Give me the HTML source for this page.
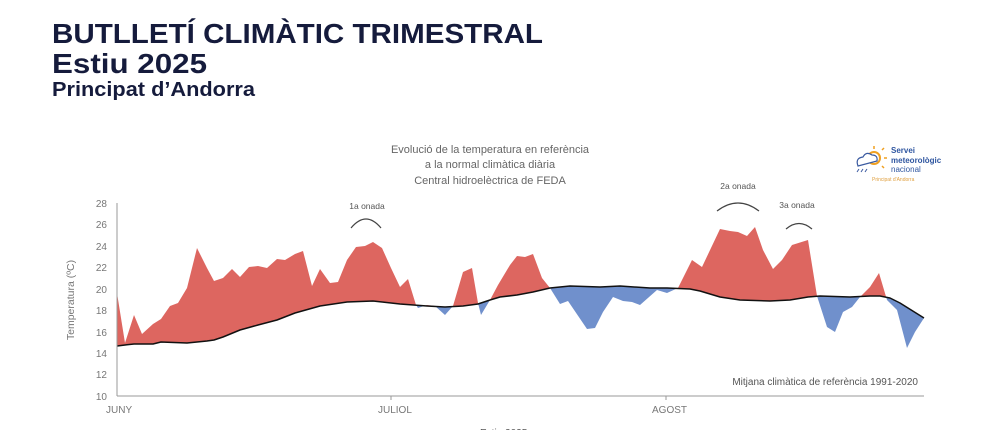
<!DOCTYPE html>
<html><head><meta charset="utf-8"><style>
html,body{margin:0;padding:0;background:#fff;}
svg{display:block;font-family:"Liberation Sans",sans-serif;}
</style></head><body>
<svg width="1000" height="430" viewBox="0 0 1000 430" xmlns="http://www.w3.org/2000/svg">
<defs>
<clipPath id="above"><polygon points="117,150 924,150 924,318 900,303 890,298 880,296 870,296 850,297 820,296 808,297 790,300 770,301 740,300 720,297 700,291 690,289 667,288 650,288 620,286 600,287 570,286 550,288 533,292 517,295 500,297 490,300 478,304 463,306 445,307 427,306 400,304 373,301 347,302 320,306 295,313 277,320 258,325 240,330 223,337 214,340 207,341 187,343 161,342 153,344 134,344 125,345 117,346"/></clipPath>
<clipPath id="below"><polygon points="117,420 924,420 924,318 900,303 890,298 880,296 870,296 850,297 820,296 808,297 790,300 770,301 740,300 720,297 700,291 690,289 667,288 650,288 620,286 600,287 570,286 550,288 533,292 517,295 500,297 490,300 478,304 463,306 445,307 427,306 400,304 373,301 347,302 320,306 295,313 277,320 258,325 240,330 223,337 214,340 207,341 187,343 161,342 153,344 134,344 125,345 117,346"/></clipPath>
</defs>
<g fill="#151b3c" font-weight="bold">
<text x="52" y="43" font-size="28" textLength="491" lengthAdjust="spacingAndGlyphs">BUTLLETÍ CLIMÀTIC TRIMESTRAL</text>
<text x="52" y="73" font-size="28" textLength="155" lengthAdjust="spacingAndGlyphs">Estiu 2025</text>
<text x="52" y="96" font-size="20" textLength="203" lengthAdjust="spacingAndGlyphs">Principat d’Andorra</text>
</g>
<g fill="#666" font-size="11" text-anchor="middle">
<text x="490" y="153">Evolució de la temperatura en referència</text>
<text x="490" y="168">a la normal climàtica diària</text>
<text x="490" y="184">Central hidroelèctrica de FEDA</text>
</g>
<!-- logo -->
<g>
<circle cx="874" cy="158" r="6" fill="none" stroke="#f0a020" stroke-width="2"/>
<g stroke="#f0a020" stroke-width="1.5"><line x1="874" y1="146" x2="874" y2="149"/><line x1="884" y1="158" x2="887" y2="158"/><line x1="882" y1="150" x2="884" y2="148"/><line x1="882" y1="166" x2="884" y2="168"/></g>
<path d="M858 166 q-3 -8 5 -9 q3 -6 9 -2 q6 0 5 6 z" fill="#fff" stroke="#3a5aa0" stroke-width="1.2"/>
<g stroke="#3a5aa0" stroke-width="1"><line x1="859" y1="169" x2="857" y2="172"/><line x1="863" y1="169" x2="861" y2="172"/><line x1="867" y1="169" x2="865" y2="172"/></g>
<g fill="#2f56a0" font-size="8" font-weight="bold"><text x="891" y="153">Servei</text><text x="891" y="163">meteorològic</text></g>
<text x="891" y="172" fill="#2f56a0" font-size="8">nacional</text>
<text x="872" y="181" fill="#e0a040" font-size="5">Principat d'Andorra</text>
</g>
<!-- y axis -->
<g fill="#777" font-size="10" text-anchor="end">
<text x="107" y="207">28</text><text x="107" y="228">26</text><text x="107" y="250">24</text><text x="107" y="271">22</text><text x="107" y="293">20</text><text x="107" y="314">18</text><text x="107" y="336">16</text><text x="107" y="357">14</text><text x="107" y="378">12</text><text x="107" y="400">10</text>
</g>
<text transform="translate(74,300) rotate(-90)" fill="#777" font-size="10.5" text-anchor="middle">Temperatura (ºC)</text>
<!-- fills -->
<polygon clip-path="url(#above)" fill="#dd6660" points="117,293 125,343 134,315 142,334 153,324 161,319 170,306 178,303 187,288 197,248 207,268 214,281 223,278 232,269 240,277 249,267 258,266 267,268 277,259 285,260 295,254 303,251 312,286 320,269 330,283 338,282 347,260 356,247 365,246 373,242 382,248 391,268 400,287 408,279 416,305 418,308 427,305 435,306 445,315 453,306 463,272 472,268 478,303 481,315 490,300 498,285 510,265 517,256 525,257 533,254 542,278 550,288 560,304 568,301 587,329 595,328 603,312 613,297 623,301 632,302 640,305 657,290 667,293 678,288 692,260 702,267 720,229 730,231 738,232 747,236 755,227 763,250 773,269 782,260 792,245 808,240 817,296 827,327 835,332 843,312 852,307 860,297 870,287 879,273 887,300 897,310 907,348 915,332 924,318 924,420 117,420"/>
<polygon clip-path="url(#below)" fill="#7090cc" points="117,293 125,343 134,315 142,334 153,324 161,319 170,306 178,303 187,288 197,248 207,268 214,281 223,278 232,269 240,277 249,267 258,266 267,268 277,259 285,260 295,254 303,251 312,286 320,269 330,283 338,282 347,260 356,247 365,246 373,242 382,248 391,268 400,287 408,279 416,305 418,308 427,305 435,306 445,315 453,306 463,272 472,268 478,303 481,315 490,300 498,285 510,265 517,256 525,257 533,254 542,278 550,288 560,304 568,301 587,329 595,328 603,312 613,297 623,301 632,302 640,305 657,290 667,293 678,288 692,260 702,267 720,229 730,231 738,232 747,236 755,227 763,250 773,269 782,260 792,245 808,240 817,296 827,327 835,332 843,312 852,307 860,297 870,287 879,273 887,300 897,310 907,348 915,332 924,318 924,150 117,150"/>
<polyline fill="none" stroke="#111" stroke-width="1.5" stroke-linejoin="round" points="117,346 125,345 134,344 153,344 161,342 187,343 207,341 214,340 223,337 240,330 258,325 277,320 295,313 320,306 347,302 373,301 400,304 427,306 445,307 463,306 478,304 490,300 500,297 517,295 533,292 550,288 570,286 600,287 620,286 650,288 667,288 690,289 700,291 720,297 740,300 770,301 790,300 808,297 820,296 850,297 870,296 880,296 890,298 900,303 924,318"/>
<!-- axes -->
<line x1="117" y1="203" x2="117" y2="396" stroke="#999" stroke-width="1"/>
<line x1="117" y1="396" x2="924" y2="396" stroke="#999" stroke-width="1"/>
<line x1="391" y1="396" x2="391" y2="400" stroke="#999"/><line x1="666" y1="396" x2="666" y2="400" stroke="#999"/>
<g fill="#777" font-size="10"><text x="106" y="413">JUNY</text><text x="378" y="413">JULIOL</text><text x="652" y="413">AGOST</text></g>
<text x="918" y="385" fill="#555" font-size="10" text-anchor="end">Mitjana climàtica de referència 1991-2020</text>
<text x="480" y="436" fill="#555" font-size="10">Estiu 2025</text>
<!-- waves -->
<g fill="#555" font-size="8.5" text-anchor="middle"><text x="367" y="209">1a onada</text><text x="738" y="189">2a onada</text><text x="797" y="208">3a onada</text></g>
<g fill="none" stroke="#444" stroke-width="1.2">
<path d="M351 228 Q366 210 381 228"/><path d="M717 211 Q738 195 759 211"/><path d="M786 229 Q799 218 812 229"/>
</g>
</svg>
</body></html>
